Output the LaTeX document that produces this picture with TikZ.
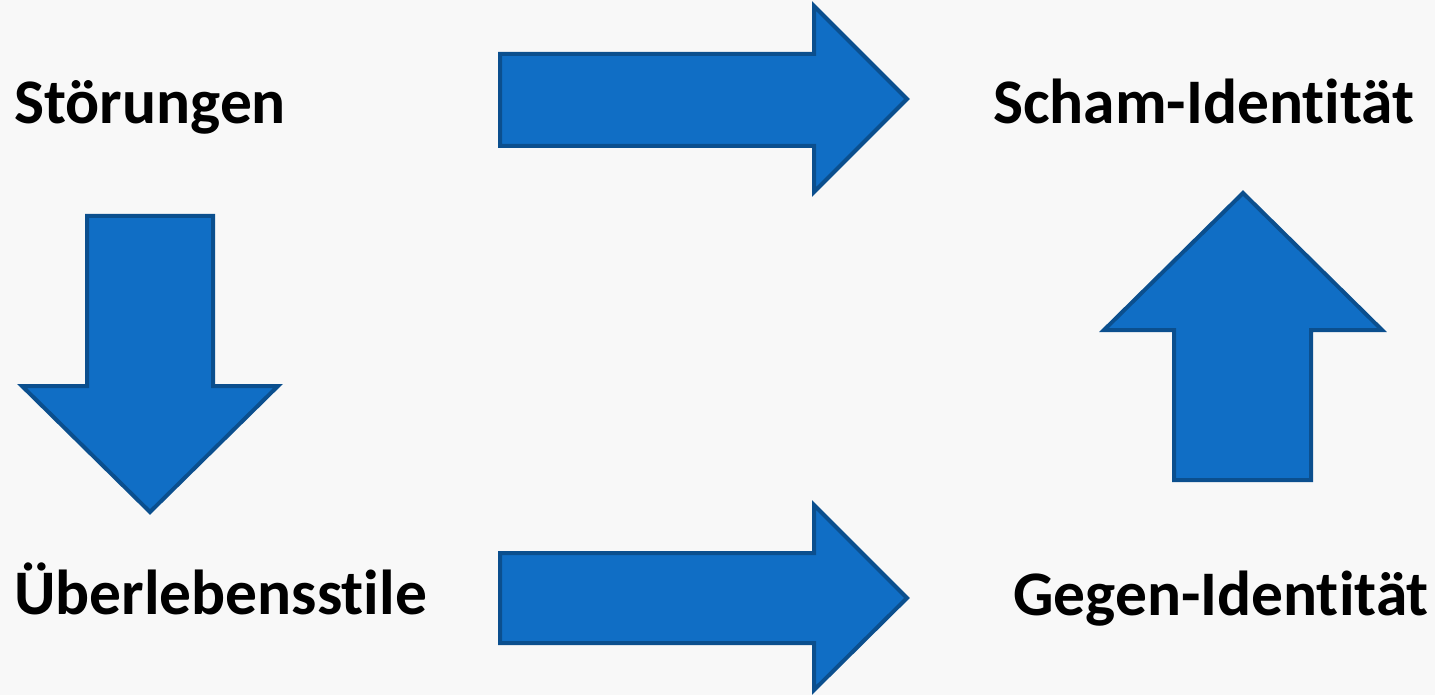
\documentclass[tikz,border=0pt]{standalone}
\usepackage{fontspec}
\setmainfont{Carlito}[RawFeature={-liga;-clig;-calt;-dlig}]
\definecolor{arrfill}{HTML}{106EC5}
\definecolor{arrline}{HTML}{0B4F8E}
\definecolor{bgcol}{HTML}{F8F8F8}
\begin{document}
\begin{tikzpicture}[x=1pt,y=-1pt,
  blockarrow/.style={fill=arrfill,draw=arrline,line width=4pt,line join=miter},
  lbl/.style={anchor=base west,inner sep=0pt,font=\fontsize{63.5}{70}\selectfont\bfseries,text=black}]
\fill[bgcol] (0,0) rectangle (1435,695);
\useasboundingbox (0,0) rectangle (1435,695);
% labels
\node[lbl] (stoer) at (14,124) {Störungen};
\node[lbl] (scham) at (993,124) {Scham-Iden{}t{}i{}t{}ät};
\node[lbl] (ueber) at (14,614) {Überlebensst{}ile};
\node[lbl] (gegen) at (1013,615) {Gegen-Iden{}t{}i{}t{}ät};
% top right arrow
\draw[blockarrow] (500,54) -- (814,54) -- (814,6) -- (907,99) -- (814,192) -- (814,146) -- (500,146) -- cycle;
% bottom right arrow
\draw[blockarrow] (500,553) -- (814,553) -- (814,505) -- (907,598) -- (814,690) -- (814,643) -- (500,643) -- cycle;
% down arrow
\draw[blockarrow] (87,216) -- (213,216) -- (213,386) -- (278,386) -- (150,512) -- (22,386) -- (87,386) -- cycle;
% up arrow
\draw[blockarrow] (1243,193) -- (1382,330) -- (1311,330) -- (1311,480) -- (1174,480) -- (1174,330) -- (1104,330) -- cycle;
\end{tikzpicture}
\end{document}
